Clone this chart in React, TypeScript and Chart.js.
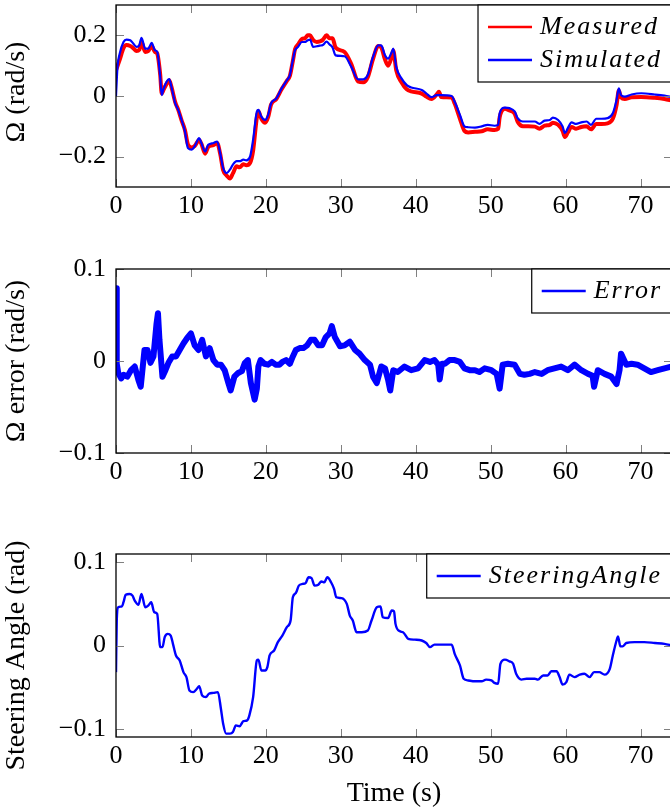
import React, { useEffect, useRef } from 'react';
import { Chart, registerables } from 'chart.js';

Chart.register(...registerables);

const FONT = '"Liberation Serif", "Times New Roman", serif';

// ---------- Plot 1: yaw rate, measured vs simulated ----------
const simTime = [0, 0.2, 0.5, 1.0, 1.4, 1.9, 2.3, 2.75, 3.1, 3.4, 3.9, 4.3, 4.75, 5.2, 5.5, 5.9, 6.1, 6.3, 6.75, 7.1, 7.4, 7.9, 8.3, 8.75, 9.2, 9.6, 10.1, 10.5, 11.1, 11.4, 11.9, 12.3, 13.0, 13.5, 13.9, 14.3, 14.75, 15.2, 15.6, 16.1, 16.5, 17.0, 17.4, 17.9, 18.3, 18.8, 19.0, 19.4, 19.9, 20.3, 20.7, 21.4, 22.1, 22.8, 23.2, 23.6, 23.9, 24.3, 24.8, 25.2, 25.6, 25.9, 26.3, 26.8, 27.2, 27.6, 28.1, 28.5, 28.9, 29.3, 30.5, 31.4, 32.3, 33.0, 33.6, 34.3, 35.0, 35.4, 35.9, 36.3, 36.8, 37.0, 37.4, 38.1, 38.8, 39.4, 40.8, 41.4, 42.1, 42.8, 43.4, 44.8, 45.2, 45.9, 46.5, 47.0, 47.9, 48.8, 49.6, 50.5, 51.0, 51.2, 51.9, 52.5, 53.2, 53.6, 54.3, 55.0, 55.9, 56.5, 57.2, 57.9, 58.3, 59.0, 59.6, 59.9, 60.3, 60.8, 61.4, 62.1, 62.8, 63.4, 64.1, 64.8, 65.6, 66.3, 66.8, 67.1, 67.4, 67.9, 68.8, 70.1, 71.9, 73.2, 74.2];
const simulated = [0, 0.096, 0.14, 0.178, 0.186, 0.184, 0.173, 0.162, 0.167, 0.192, 0.156, 0.156, 0.175, 0.151, 0.146, 0.063, 0.003, 0.02, 0.047, 0.056, 0.03, -0.024, -0.046, -0.079, -0.117, -0.172, -0.177, -0.166, -0.139, -0.155, -0.183, -0.161, -0.155, -0.15, -0.188, -0.237, -0.254, -0.243, -0.226, -0.215, -0.215, -0.21, -0.212, -0.199, -0.144, -0.051, -0.046, -0.068, -0.079, -0.062, -0.024, -0.008, 0.025, 0.052, 0.069, 0.118, 0.151, 0.162, 0.178, 0.178, 0.184, 0.186, 0.162, 0.164, 0.166, 0.168, 0.179, 0.17, 0.16, 0.134, 0.131, 0.096, 0.055, 0.055, 0.069, 0.129, 0.167, 0.167, 0.134, 0.123, 0.145, 0.156, 0.096, 0.058, 0.036, 0.028, 0.02, 0.009, -0.004, 0.003, 0.003, 0, -0.019, -0.062, -0.1, -0.103, -0.104, -0.1, -0.095, -0.098, -0.095, -0.057, -0.038, -0.04, -0.051, -0.073, -0.084, -0.084, -0.084, -0.092, -0.081, -0.079, -0.071, -0.079, -0.1, -0.122, -0.106, -0.087, -0.092, -0.087, -0.084, -0.095, -0.075, -0.075, -0.073, -0.057, -0.013, 0.025, 0.003, -0.002, 0.005, 0.009, 0.005, 0.001, -0.004];

const measTime = [0, 0.5, 1.0, 1.4, 1.9, 2.3, 2.75, 3.1, 3.4, 3.9, 4.3, 4.75, 5.2, 5.5, 5.9, 6.1, 6.3, 6.75, 7.1, 7.4, 7.9, 8.3, 8.75, 9.2, 9.6, 10.1, 10.5, 11.1, 11.4, 11.9, 12.3, 13.0, 13.5, 13.9, 14.3, 14.75, 15.2, 15.6, 16.1, 16.5, 17.0, 17.4, 17.9, 18.3, 18.8, 19.0, 19.4, 19.9, 20.3, 20.7, 21.4, 22.1, 22.8, 23.2, 23.6, 23.9, 24.3, 24.8, 25.2, 25.6, 25.9, 26.3, 26.8, 27.2, 27.6, 28.1, 28.5, 28.9, 29.3, 30.5, 31.4, 32.3, 33.0, 33.6, 34.3, 35.0, 35.4, 35.9, 36.3, 36.8, 37.0, 37.4, 38.1, 38.8, 39.4, 40.8, 41.4, 42.1, 42.8, 43.1, 43.4, 44.8, 45.2, 45.9, 46.5, 47.0, 47.9, 48.8, 49.6, 50.5, 51.0, 51.2, 51.9, 52.5, 53.2, 53.6, 54.3, 55.0, 55.9, 56.5, 57.2, 57.9, 58.3, 59.0, 59.6, 59.9, 60.3, 60.8, 61.4, 62.1, 62.8, 63.4, 64.1, 64.8, 65.6, 66.3, 66.8, 67.1, 67.4, 67.9, 68.8, 70.1, 71.9, 73.2, 74.2];
const measured = [0.085, 0.12, 0.158, 0.168, 0.165, 0.158, 0.148, 0.152, 0.178, 0.145, 0.148, 0.165, 0.145, 0.14, 0.07, 0.008, 0.018, 0.04, 0.052, 0.03, -0.02, -0.045, -0.08, -0.112, -0.16, -0.17, -0.165, -0.145, -0.158, -0.19, -0.168, -0.162, -0.155, -0.19, -0.245, -0.262, -0.272, -0.255, -0.232, -0.235, -0.225, -0.228, -0.22, -0.18, -0.07, -0.05, -0.075, -0.088, -0.07, -0.028, -0.01, 0.022, 0.05, 0.066, 0.115, 0.155, 0.17, 0.188, 0.19, 0.2, 0.2, 0.185, 0.178, 0.18, 0.185, 0.2, 0.19, 0.19, 0.16, 0.145, 0.105, 0.048, 0.045, 0.062, 0.122, 0.165, 0.16, 0.12, 0.1, 0.13, 0.15, 0.085, 0.045, 0.022, 0.015, 0.008, -0.002, -0.01, 0.005, 0.014, -0.003, -0.005, -0.025, -0.075, -0.115, -0.12, -0.118, -0.116, -0.11, -0.112, -0.108, -0.07, -0.042, -0.048, -0.058, -0.085, -0.1, -0.1, -0.101, -0.108, -0.098, -0.095, -0.088, -0.095, -0.115, -0.135, -0.12, -0.102, -0.108, -0.102, -0.1, -0.11, -0.092, -0.092, -0.09, -0.075, -0.03, 0.018, -0.005, -0.01, -0.004, -0.003, -0.006, -0.01, -0.015];

// ---------- Plot 2: yaw rate error ----------
const errTime = [0, 0.1, 0.3, 0.7, 1.0, 1.5, 2.0, 2.5, 3.0, 3.3, 3.8, 4.2, 4.6, 5.0, 5.4, 5.6, 5.8, 6.2, 6.6, 7.0, 7.5, 8.0, 8.5, 9.0, 9.5, 10.0, 10.5, 11.0, 11.5, 12.0, 12.5, 13.0, 13.5, 14.0, 14.5, 15.0, 15.3, 15.8, 16.3, 16.8, 17.2, 17.6, 18.0, 18.5, 18.8, 19.0, 19.3, 19.8, 20.3, 20.8, 21.3, 21.8, 22.2, 22.7, 23.2, 23.6, 24.0, 24.5, 25.0, 25.5, 26.0, 26.5, 27.0, 27.5, 28.0, 28.5, 28.8, 29.2, 29.9, 30.5, 31.2, 31.9, 32.5, 33.2, 33.9, 34.3, 34.8, 35.4, 35.9, 36.3, 36.6, 37.0, 37.6, 38.5, 39.4, 40.3, 41.2, 41.9, 42.5, 43.0, 43.2, 43.5, 43.9, 44.5, 45.2, 45.9, 46.5, 47.2, 47.9, 48.5, 49.2, 50.1, 50.8, 51.2, 51.6, 52.3, 53.2, 53.9, 54.5, 55.2, 55.9, 56.8, 57.6, 58.5, 59.4, 60.3, 61.2, 62.1, 63.0, 63.6, 63.8, 64.3, 65.2, 66.1, 66.8, 67.2, 67.4, 68.1, 68.8, 69.6, 70.5, 71.4, 72.3, 73.2, 74.2];
const omegaError = [0.079, -0.003, -0.013, -0.019, -0.015, -0.017, -0.01, -0.006, -0.021, -0.028, 0.012, 0.012, -0.002, 0.005, 0.04, 0.052, 0.023, -0.017, -0.01, -0.002, 0.005, 0.005, 0.012, 0.019, 0.025, 0.03, 0.017, 0.012, 0.023, 0.005, 0.014, 0.001, -0.004, -0.004, -0.01, -0.024, -0.032, -0.017, -0.013, -0.011, -0.002, 0.001, -0.024, -0.042, -0.03, -0.006, 0.001, -0.003, -0.004, -0.001, -0.004, -0.004, -0.001, 0.001, -0.003, 0.005, 0.012, 0.014, 0.014, 0.017, 0.023, 0.023, 0.017, 0.017, 0.026, 0.03, 0.038, 0.026, 0.016, 0.017, 0.021, 0.012, 0.008, 0.001, -0.004, -0.017, -0.024, -0.006, -0.008, -0.02, -0.032, -0.01, -0.012, -0.006, -0.01, -0.008, 0.001, -0.001, 0.001, -0.004, -0.02, -0.003, -0.003, 0.001, 0.001, -0.001, -0.008, -0.01, -0.01, -0.012, -0.008, -0.01, -0.014, -0.03, -0.004, -0.003, -0.004, -0.014, -0.015, -0.014, -0.012, -0.014, -0.01, -0.008, -0.006, -0.01, -0.004, -0.01, -0.014, -0.016, -0.028, -0.01, -0.014, -0.017, -0.025, -0.01, 0.008, -0.004, -0.003, -0.004, -0.008, -0.012, -0.01, -0.008, -0.006];

// ---------- Plot 3: steering angle ----------
const steerTime = [0, 0.1, 0.3, 0.8, 1.0, 1.3, 1.8, 2.2, 2.5, 3.0, 3.4, 3.9, 4.3, 4.7, 5.1, 5.5, 5.9, 6.2, 6.5, 6.9, 7.3, 7.6, 8.0, 8.5, 9.0, 9.4, 9.8, 10.3, 10.8, 11.1, 11.5, 12.0, 12.4, 13.0, 13.6, 14.0, 14.3, 14.7, 15.2, 15.6, 16.0, 16.5, 17.0, 17.5, 17.8, 18.3, 18.8, 19.0, 19.4, 19.9, 20.2, 20.5, 21.1, 21.6, 22.2, 22.8, 23.3, 23.6, 24.0, 24.4, 24.9, 25.3, 25.7, 26.1, 26.5, 27.0, 27.4, 27.8, 28.2, 28.7, 29.1, 29.4, 30.1, 30.8, 31.2, 31.6, 32.1, 32.8, 33.6, 34.1, 34.8, 35.3, 35.6, 36.3, 36.8, 37.1, 37.3, 37.9, 38.3, 39.0, 39.9, 40.8, 41.4, 41.9, 42.5, 43.4, 44.8, 45.2, 45.9, 46.4, 47.0, 47.9, 48.8, 49.4, 50.1, 50.5, 51.0, 51.3, 51.9, 52.5, 53.0, 53.4, 54.1, 54.8, 55.9, 56.3, 57.0, 57.6, 58.1, 58.8, 59.2, 59.6, 60.1, 60.5, 61.2, 61.9, 62.5, 63.2, 63.8, 64.5, 65.2, 65.9, 66.3, 66.8, 67.0, 67.3, 67.6, 68.1, 69.2, 70.5, 71.9, 73.2, 74.2];
const steeringAngle = [-0.032, 0.03, 0.046, 0.047, 0.052, 0.061, 0.062, 0.06, 0.054, 0.049, 0.062, 0.046, 0.048, 0.052, 0.04, 0.038, -0.002, -0.002, 0.01, 0.014, 0.012, 0.002, -0.012, -0.018, -0.032, -0.038, -0.054, -0.056, -0.052, -0.049, -0.06, -0.062, -0.058, -0.057, -0.056, -0.076, -0.094, -0.106, -0.106, -0.104, -0.096, -0.097, -0.091, -0.09, -0.084, -0.062, -0.018, -0.017, -0.03, -0.03, -0.026, -0.012, -0.006, 0.004, 0.012, 0.022, 0.03, 0.058, 0.063, 0.072, 0.074, 0.075, 0.082, 0.081, 0.072, 0.073, 0.077, 0.076, 0.082, 0.076, 0.068, 0.058, 0.057, 0.05, 0.036, 0.03, 0.016, 0.016, 0.018, 0.03, 0.046, 0.047, 0.034, 0.033, 0.042, 0.041, 0.026, 0.017, 0.016, 0.008, 0.007, 0.006, 0.003, -0.002, 0.001, 0.001, 0.001, -0.01, -0.024, -0.04, -0.042, -0.043, -0.043, -0.041, -0.042, -0.045, -0.046, -0.022, -0.017, -0.019, -0.022, -0.034, -0.041, -0.04, -0.04, -0.041, -0.036, -0.036, -0.031, -0.031, -0.038, -0.047, -0.044, -0.035, -0.038, -0.035, -0.034, -0.038, -0.032, -0.032, -0.035, -0.028, -0.012, 0.006, 0.011, -0.001, -0.001, 0.003, 0.004, 0.004, 0.003, 0.002, 0];

// ---------- tick labels ----------
const timeTicks = [0, 10, 20, 30, 40, 50, 60, 70];
const omegaTicks = [-0.2, 0, 0.2];
const errorTicks = [-0.1, 0, 0.1];
const steerTicks = [-0.1, 0, 0.1];

const xMin = 0;
const xMax = 74.2;

function pts(xs: number[], ys: number[]) {
  return xs.map((x, i) => ({ x, y: ys[i] }));
}

function fmtTick(v: number) {
  if (Math.abs(v) < 1e-9) return '0';
  return v.toFixed(1).replace('-', '\u2212');
}

function makeFramePlugin(yTitle: string, titleShift: number) {
  return {
    id: 'pgfFrame',
    afterDatasetsDraw(chart: any) {
      const { ctx, chartArea: a, scales } = chart;
      const tl = 8;
      ctx.save();
      ctx.strokeStyle = 'rgb(128,128,128)';
      ctx.lineWidth = 1;
      const xs = scales.x;
      const ys = scales.y;
      ctx.beginPath();
      xs.ticks.forEach((t: any) => {
        const px = Math.round(xs.getPixelForValue(t.value)) + 0.5;
        ctx.moveTo(px, a.bottom);
        ctx.lineTo(px, a.bottom - tl);
        ctx.moveTo(px, a.top);
        ctx.lineTo(px, a.top + tl);
      });
      ys.ticks.forEach((t: any) => {
        const py = Math.round(ys.getPixelForValue(t.value)) + 0.5;
        ctx.moveTo(a.left, py);
        ctx.lineTo(a.left + tl, py);
        ctx.moveTo(a.right, py);
        ctx.lineTo(a.right - tl, py);
      });
      ctx.stroke();
      ctx.strokeStyle = '#000';
      ctx.lineWidth = 1.3;
      ctx.strokeRect(a.left, a.top, a.right - a.left, a.bottom - a.top);
      ctx.restore();
    },
    afterDraw(chart: any) {
      const { ctx, chartArea: a } = chart;
      // y axis title
      ctx.save();
      ctx.translate(17, (a.top + a.bottom) / 2 + titleShift);
      ctx.rotate(-Math.PI / 2);
      ctx.font = `28px ${FONT}`;
      ctx.fillStyle = '#000';
      ctx.textAlign = 'center';
      ctx.textBaseline = 'middle';
      ctx.fillText(yTitle, 0, 0);
      ctx.restore();

      // legend box
      const items = chart.data.datasets.map((d: any) => ({ label: d.label, color: d.borderColor }));
      ctx.save();
      ctx.font = `italic 26px ${FONT}`;
      try { (ctx as any).letterSpacing = '2px'; } catch (e) {}
      const maxW = Math.max(...items.map((it: any) => ctx.measureText(it.label).width));
      const textRight = a.right - 10;
      const textLeft = textRight - maxW;
      const lineEnd = textLeft - 8;
      const lineStart = lineEnd - 44;
      const boxLeft = lineStart - 10;
      const rowH = 33;
      const boxTop = a.top;
      const boxH = 11 + rowH * items.length;
      ctx.fillStyle = '#fff';
      ctx.fillRect(boxLeft, boxTop, a.right + 20 - boxLeft, boxH);
      ctx.strokeStyle = '#000';
      ctx.lineWidth = 1.2;
      ctx.strokeRect(boxLeft, boxTop, a.right + 20 - boxLeft, boxH);
      items.forEach((it: any, i: number) => {
        const cy = boxTop + 22 + i * rowH;
        ctx.strokeStyle = it.color;
        ctx.lineWidth = 2.4;
        ctx.beginPath();
        ctx.moveTo(lineStart, cy);
        ctx.lineTo(lineEnd, cy);
        ctx.stroke();
        ctx.fillStyle = '#000';
        ctx.textAlign = 'left';
        ctx.textBaseline = 'middle';
        ctx.fillText(it.label, textLeft, cy);
      });
      ctx.restore();
    },
  };
}

type PlotSpec = {
  datasets: any[];
  yMin: number;
  yMax: number;
  yTicks: number[];
  yTitle: string;
  titleShift: number;
  xTitle?: string;
  padTop: number;
  padBottom: number;
  xHeight: number;
};

function makeConfig(spec: PlotSpec): any {
  const tickFont = { family: FONT, size: 26 };
  const titleFont = { family: FONT, size: 28 };
  return {
    type: 'line',
    data: { datasets: spec.datasets },
    options: {
      animation: false,
      responsive: false,
      maintainAspectRatio: false,
      layout: { padding: { top: spec.padTop, bottom: spec.padBottom, left: 0, right: 8 } },
      plugins: { legend: { display: false }, tooltip: { enabled: false } },
      elements: { point: { radius: 0 } },
      scales: {
        x: {
          type: 'linear',
          min: xMin,
          max: xMax,
          grid: { display: false, drawTicks: false },
          border: { display: false },
          afterBuildTicks: (s: any) => {
            s.ticks = timeTicks.map((v) => ({ value: v }));
          },
          ticks: {
            color: '#000',
            font: tickFont,
            padding: 4,
            maxRotation: 0,
            autoSkip: false,
          },
          title: spec.xTitle
            ? { display: true, text: spec.xTitle, color: '#000', font: titleFont, padding: { top: 0, bottom: 1 } }
            : { display: false },
          afterFit: (s: any) => {
            s.height = spec.xHeight;
            s.paddingLeft = 0;
            s.paddingRight = 0;
            s.paddingTop = 0;
            s.paddingBottom = 0;
          },
        },
        y: {
          type: 'linear',
          min: spec.yMin,
          max: spec.yMax,
          grid: { display: false, drawTicks: false },
          border: { display: false },
          afterBuildTicks: (s: any) => {
            s.ticks = spec.yTicks.map((v) => ({ value: v }));
          },
          ticks: {
            color: '#000',
            font: tickFont,
            padding: 10,
            callback: (v: number) => fmtTick(v),
          },
          title: { display: false },
          afterFit: (s: any) => {
            s.width = 116;
            s.paddingLeft = 0;
            s.paddingRight = 0;
            s.paddingTop = 0;
            s.paddingBottom = 0;
          },
        },
      },
    },
    plugins: [makeFramePlugin(spec.yTitle, spec.titleShift)],
  };
}

function Plot({ top, height, spec }: { top: number; height: number; spec: PlotSpec }) {
  const ref = useRef<HTMLCanvasElement>(null);
  useEffect(() => {
    const chart = new Chart(ref.current as HTMLCanvasElement, makeConfig(spec));
    return () => chart.destroy();
  }, []);
  return (
    <canvas
      ref={ref}
      width={680}
      height={height}
      style={{ position: 'absolute', left: 0, top, width: 680, height, display: 'block' }}
    />
  );
}

const plot1: PlotSpec = {
  datasets: [
    {
      label: 'Measured',
      data: pts(measTime, measured),
      borderColor: '#ff0000',
      borderWidth: 4,
      cubicInterpolationMode: 'monotone',
      order: 1,
    },
    {
      label: 'Simulated',
      data: pts(simTime, simulated),
      borderColor: '#0000ff',
      borderWidth: 2.2,
      cubicInterpolationMode: 'monotone',
      order: 0,
    },
  ],
  yMin: -0.3,
  yMax: 0.3,
  yTicks: omegaTicks,
  yTitle: '\u03A9 (rad/s)',
  titleShift: -4,
  padTop: 5,
  padBottom: 3,
  xHeight: 40,
};

const plot2: PlotSpec = {
  datasets: [
    {
      label: 'Error',
      data: pts(errTime, omegaError),
      borderColor: '#0000ff',
      borderWidth: 6,
      borderJoinStyle: 'round',
    },
  ],
  yMin: -0.1,
  yMax: 0.1,
  yTicks: errorTicks,
  yTitle: '\u03A9 error (rad/s)',
  titleShift: 0,
  padTop: 19,
  padBottom: 3,
  xHeight: 40,
};

const plot3: PlotSpec = {
  datasets: [
    {
      label: 'SteeringAngle',
      data: pts(steerTime, steeringAngle),
      borderColor: '#0000ff',
      borderWidth: 2.4,
      cubicInterpolationMode: 'monotone',
    },
  ],
  yMin: -0.11,
  yMax: 0.11,
  yTicks: steerTicks,
  yTitle: 'Steering Angle (rad)',
  titleShift: 10,
  xTitle: 'Time (s)',
  padTop: 54,
  padBottom: 0,
  xHeight: 74,
};

export default function App() {
  return (
    <div
      style={{
        position: 'absolute',
        left: 0,
        top: 0,
        width: 670,
        height: 811,
        overflow: 'hidden',
        background: '#fff',
      }}
    >
      <Plot top={0} height={230} spec={plot1} />
      <Plot top={250} height={246} spec={plot2} />
      <Plot top={500} height={311} spec={plot3} />
    </div>
  );
}
